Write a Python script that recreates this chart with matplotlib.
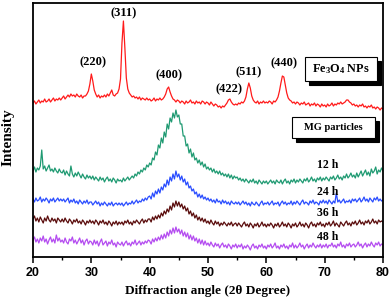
import numpy as np
import matplotlib
matplotlib.use("Agg")
import matplotlib.pyplot as plt
from matplotlib.patches import Rectangle

plt.rcParams['mathtext.fontset'] = 'custom'
plt.rcParams['mathtext.rm'] = 'Liberation Serif:bold'
plt.rcParams['mathtext.it'] = 'Liberation Serif:bold'
plt.rcParams['mathtext.bf'] = 'Liberation Serif:bold'

# 2-theta grid: each row covers 5 degrees in 0.25 degree steps, plus endpoint 80
row_starts = [20, 25, 30, 35, 40, 45, 50, 55, 60, 65, 70, 75]
step = 0.25

fe3o4 = [
    [154, 156, 153, 155, 157, 154, 156, 155, 158, 155, 156, 158, 155, 157, 159, 156, 158, 157, 159, 157],
    [159, 161, 158, 160, 162, 160, 163, 161, 162, 160, 163, 161, 160, 162, 159, 161, 161, 163, 166, 173],
    [183, 176, 167, 163, 160, 162, 159, 161, 160, 162, 160, 163, 161, 164, 167, 162, 161, 163, 164, 168],
    [178, 214, 236, 209, 179, 168, 164, 162, 160, 161, 159, 160, 158, 160, 157, 159, 158, 157, 159, 157],
    [158, 156, 157, 159, 156, 158, 157, 159, 157, 158, 160, 163, 168, 170, 165, 161, 158, 157, 155, 157],
    [156, 154, 156, 155, 153, 156, 154, 155, 157, 154, 155, 153, 156, 154, 155, 153, 156, 155, 153, 155],
    [154, 152, 155, 153, 151, 153, 152, 150, 151, 149, 151, 150, 152, 154, 157, 158, 155, 153, 152, 153],
    [152, 154, 153, 155, 154, 156, 160, 168, 174, 169, 161, 157, 155, 154, 156, 153, 155, 154, 156, 154],
    [155, 154, 156, 155, 153, 156, 155, 157, 160, 166, 174, 181, 180, 172, 164, 159, 157, 156, 154, 155],
    [153, 155, 154, 152, 154, 153, 155, 152, 153, 154, 151, 153, 152, 154, 151, 153, 152, 150, 153, 151],
    [152, 150, 153, 151, 152, 154, 151, 153, 152, 154, 153, 155, 153, 154, 155, 157, 157, 155, 154, 152],
    [153, 151, 152, 150, 152, 151, 153, 150, 151, 149, 151, 150, 152, 149, 150, 148, 150, 149, 147, 149],
    [148],
]
h12 = [
    [86, 90, 85, 89, 87, 91, 107, 88, 91, 86, 89, 92, 86, 88, 85, 89, 86, 84, 88, 85],
    [84, 87, 82, 86, 83, 81, 91, 83, 80, 84, 81, 85, 82, 79, 83, 80, 78, 82, 79, 81],
    [78, 81, 77, 80, 78, 76, 80, 77, 79, 75, 78, 80, 76, 78, 75, 79, 77, 74, 78, 76],
    [77, 75, 79, 76, 78, 80, 77, 79, 81, 79, 83, 81, 85, 83, 87, 85, 89, 87, 92, 90],
    [94, 92, 99, 97, 105, 102, 112, 109, 119, 114, 125, 120, 133, 128, 139, 135, 144, 139, 147, 140],
    [142, 133, 133, 121, 121, 111, 113, 104, 108, 100, 104, 97, 99, 94, 97, 92, 95, 90, 93, 88],
    [90, 87, 89, 85, 88, 84, 86, 83, 86, 82, 84, 81, 83, 80, 83, 79, 82, 78, 81, 79],
    [80, 77, 79, 76, 78, 75, 78, 76, 74, 77, 75, 78, 74, 76, 73, 77, 75, 73, 76, 74],
    [76, 73, 75, 77, 74, 76, 73, 77, 75, 74, 77, 73, 76, 78, 74, 76, 73, 77, 75, 78],
    [74, 77, 75, 78, 76, 74, 78, 76, 79, 75, 77, 80, 76, 78, 75, 79, 77, 80, 76, 79],
    [77, 80, 78, 76, 80, 78, 81, 77, 79, 82, 78, 80, 77, 81, 79, 83, 79, 81, 84, 80],
    [82, 79, 84, 80, 83, 86, 81, 84, 87, 82, 85, 81, 88, 84, 86, 90, 83, 87, 85, 89],
    [86],
]
h24 = [
    [58, 55, 59, 56, 57, 60, 55, 58, 56, 59, 57, 54, 58, 56, 59, 55, 57, 59, 56, 58],
    [56, 58, 55, 57, 59, 54, 57, 55, 58, 54, 56, 53, 57, 55, 53, 56, 54, 57, 53, 55],
    [55, 52, 54, 56, 53, 55, 51, 54, 52, 55, 53, 51, 54, 52, 55, 51, 53, 54, 52, 54],
    [52, 54, 51, 53, 55, 52, 54, 53, 56, 53, 55, 57, 54, 56, 55, 58, 56, 59, 57, 60],
    [61, 58, 64, 60, 66, 63, 68, 64, 70, 67, 73, 70, 77, 72, 80, 76, 83, 78, 86, 80],
    [83, 77, 81, 75, 78, 72, 75, 69, 71, 66, 68, 63, 65, 60, 63, 59, 62, 58, 60, 57],
    [59, 56, 58, 55, 57, 54, 58, 55, 56, 53, 57, 54, 56, 53, 55, 52, 56, 54, 53, 55],
    [53, 55, 52, 54, 56, 53, 55, 52, 54, 51, 55, 53, 52, 55, 53, 51, 54, 56, 52, 54],
    [53, 55, 52, 54, 56, 52, 54, 53, 55, 51, 54, 56, 53, 55, 52, 54, 53, 56, 52, 55],
    [53, 56, 54, 52, 55, 57, 53, 55, 54, 52, 56, 54, 57, 53, 55, 54, 52, 56, 54, 57],
    [54, 56, 53, 57, 55, 53, 56, 54, 64, 55, 57, 54, 56, 58, 54, 56, 55, 57, 54, 58],
    [56, 58, 55, 57, 59, 55, 57, 60, 56, 58, 55, 59, 57, 55, 59, 57, 60, 56, 58, 56],
    [57],
]
h36 = [
    [38, 41, 36, 39, 35, 40, 37, 34, 39, 36, 41, 37, 35, 39, 36, 38, 34, 39, 37, 35],
    [38, 35, 39, 36, 34, 38, 36, 33, 37, 35, 38, 34, 36, 33, 37, 35, 32, 36, 34, 37],
    [34, 36, 33, 37, 35, 32, 36, 34, 37, 33, 35, 32, 36, 34, 31, 35, 33, 36, 32, 35],
    [33, 35, 32, 36, 34, 37, 33, 35, 32, 36, 34, 37, 35, 33, 36, 38, 34, 37, 35, 38],
    [38, 35, 40, 37, 41, 38, 42, 39, 44, 41, 46, 43, 48, 45, 51, 47, 54, 50, 56, 51],
    [55, 50, 53, 48, 51, 46, 49, 43, 46, 41, 44, 39, 42, 37, 40, 36, 39, 35, 38, 34],
    [36, 33, 37, 34, 32, 36, 33, 35, 31, 34, 32, 35, 33, 31, 34, 32, 35, 31, 33, 34],
    [31, 34, 32, 30, 33, 35, 31, 33, 30, 34, 32, 29, 33, 31, 34, 30, 32, 35, 31, 33],
    [30, 33, 31, 34, 32, 29, 33, 31, 34, 30, 32, 35, 31, 33, 30, 34, 32, 29, 33, 31],
    [34, 30, 32, 35, 31, 33, 30, 34, 32, 29, 33, 35, 31, 33, 30, 34, 32, 35, 31, 33],
    [30, 34, 32, 35, 31, 33, 36, 31, 34, 32, 30, 35, 33, 31, 34, 36, 32, 34, 31, 35],
    [33, 36, 32, 34, 37, 33, 35, 32, 36, 34, 37, 33, 35, 38, 34, 36, 33, 37, 35, 36],
    [35],
]
h48 = [
    [17, 20, 15, 18, 14, 19, 16, 21, 15, 18, 13, 17, 20, 15, 18, 14, 22, 16, 19, 15],
    [17, 14, 19, 15, 13, 18, 16, 20, 14, 17, 13, 16, 19, 14, 17, 12, 16, 18, 13, 16],
    [15, 12, 17, 13, 16, 11, 15, 18, 12, 14, 16, 11, 15, 13, 17, 12, 14, 10, 15, 13],
    [12, 15, 11, 14, 16, 12, 14, 11, 15, 13, 17, 12, 14, 16, 12, 15, 13, 16, 14, 17],
    [16, 13, 18, 15, 19, 16, 20, 17, 22, 18, 23, 19, 25, 21, 27, 23, 29, 24, 30, 25],
    [28, 23, 27, 21, 25, 20, 24, 18, 22, 17, 21, 16, 19, 14, 18, 13, 17, 12, 16, 12],
    [14, 11, 15, 12, 10, 14, 11, 13, 9, 12, 14, 10, 12, 9, 13, 11, 8, 12, 10, 13],
    [9, 12, 10, 13, 8, 11, 9, 12, 10, 7, 11, 13, 9, 11, 8, 12, 10, 13, 9, 11],
    [8, 12, 10, 13, 9, 11, 14, 9, 11, 8, 12, 10, 13, 9, 11, 8, 12, 10, 14, 9],
    [12, 9, 11, 14, 10, 12, 8, 11, 13, 9, 12, 10, 14, 11, 9, 12, 10, 13, 9, 12],
    [10, 13, 9, 12, 11, 14, 10, 12, 9, 13, 11, 15, 10, 12, 9, 13, 11, 14, 10, 12],
    [13, 10, 12, 15, 11, 13, 9, 12, 14, 10, 13, 11, 15, 12, 10, 14, 12, 15, 11, 13],
    [12],
]

series_names = ["Fe3O4 NPs", "12 h", "24 h", "36 h", "48 h"]
series_data = [fe3o4, h12, h24, h36, h48]
series_colors = ["#ff1a1a", "#1f9a72", "#2a4dff", "#5a0c0c", "#b44cf0"]

peak_labels = ["(220)", "(311)", "(400)", "(422)", "(511)", "(440)"]
peak_pos = [30.3, 35.5, 43.3, 53.6, 57.0, 63.05]
peak_lab_h = [195, 244, 182, 168, 185, 194]

time_labels = ["12 h", "24 h", "36 h", "48 h"]
time_lab_h = [92, 65, 44, 20]


def build(rows):
    xs, ys = [], []
    starts = row_starts + [80]
    for s, r in zip(starts, rows):
        for j, v in enumerate(r):
            xs.append(s + step * j)
            ys.append(v)
    return np.array(xs), np.array(ys, dtype=float)


fig = plt.figure(figsize=(3.92, 3.0), dpi=100)
ax = fig.add_axes([33 / 392, 43 / 300, 350 / 392, 254 / 300])

for rows, c in zip(series_data, series_colors):
    x, y = build(rows)
    ax.plot(x, y, color=c, lw=0.9)

ax.set_xlim(20, 80)
ax.set_ylim(0, 254)
ax.set_yticks([])
ax.set_xticks(np.arange(20, 81, 10))
ax.set_xticks(np.arange(25, 80, 10), minor=True)
ax.tick_params(axis='x', which='major', direction='out', length=4, width=1.1, pad=3.5)
ax.tick_params(axis='x', which='minor', direction='out', length=2.5, width=1.0)
for sp in ax.spines.values():
    sp.set_linewidth(1.3)
for lab in ax.get_xticklabels():
    lab.set_fontfamily('Liberation Sans')
    lab.set_fontweight('bold')
    lab.set_fontsize(9)

serif = dict(family='Liberation Serif', weight='bold')
ax.set_xlabel('Diffraction angle (2θ Degree)', fontsize=9.5, labelpad=4, **serif)
ax.set_ylabel('Intensity', fontsize=11, **serif)
ax.yaxis.set_label_coords(-0.052, 0.47)

for t, px, ph in zip(peak_labels, peak_pos, peak_lab_h):
    ax.text(px, ph, t, ha='center', va='center', fontsize=9, **serif)

for t, ph in zip(time_labels, time_lab_h):
    ax.text(70.6, ph, t, ha='center', va='center', fontsize=8.5, **serif)


def shadow_box(x0, y0, x1, y1, text, fs):
    dx, dy = 4 / 350, 4 / 254
    ax.add_patch(Rectangle((x0 + dx, y0 - dy), x1 - x0, y1 - y0, transform=ax.transAxes,
                           facecolor='black', edgecolor='black', lw=0.8, zorder=5))
    ax.add_patch(Rectangle((x0, y0), x1 - x0, y1 - y0, transform=ax.transAxes,
                           facecolor='white', edgecolor='black', lw=0.8, zorder=6))
    ax.text((x0 + x1) / 2, (y0 + y1) / 2, text, transform=ax.transAxes, ha='center',
            va='center', fontsize=fs, zorder=7, **serif)


shadow_box(0.777, 0.693, 0.983, 0.787, 'Fe$_3$O$_4$ NPs', 8.8)
shadow_box(0.740, 0.469, 0.977, 0.551, 'MG particles', 7.5)

fig.savefig('out.png', dpi=100)
